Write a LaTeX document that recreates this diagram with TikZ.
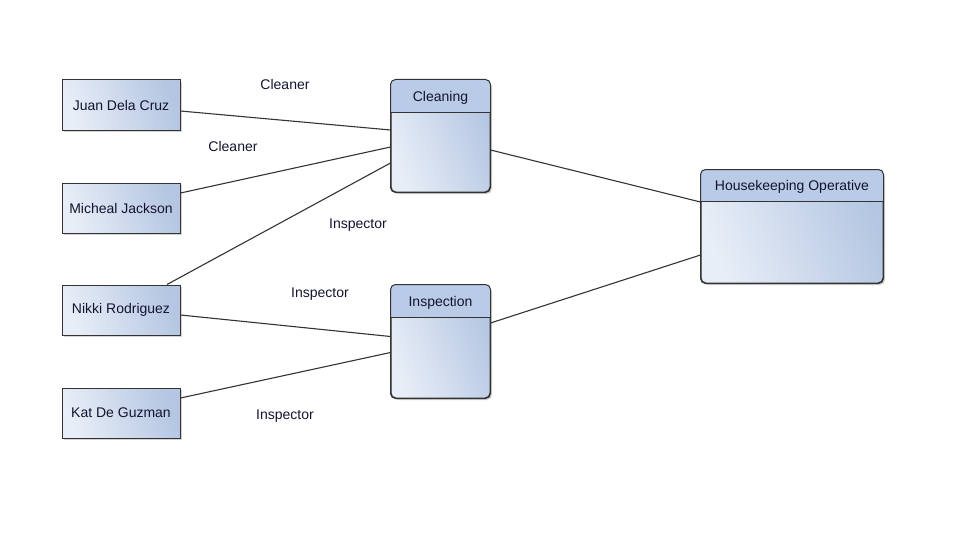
\documentclass[tikz,border=0pt]{standalone}
\usepackage{fontspec}
\setmainfont{Liberation Sans}
\usetikzlibrary{shadows}
\definecolor{lightc}{HTML}{E8EEF7}
\definecolor{darkc}{HTML}{B4C6E2}
\definecolor{hdrc}{HTML}{B9CBE6}
\definecolor{linec}{HTML}{333333}
\definecolor{txtc}{HTML}{141430}
\tikzset{
  every node/.style={font=\fontsize{14}{16}\selectfont, text=txtc},
  shadowed/.style={drop shadow={shadow xshift=2pt, shadow yshift=-2pt, opacity=0.35, fill=gray}},
  person/.style={draw=linec, line width=1pt, minimum width=118pt, minimum height=50pt,
    inner sep=0pt, left color=lightc, right color=darkc, shading angle=110, shadowed},
  entity/.style={draw=linec, line width=1pt, rounded corners=5pt, inner sep=0pt,
    left color=lightc, right color=darkc, shading angle=110, shadowed},
  conn/.style={draw=linec, line width=1.1pt},
  lbl/.style={inner sep=1pt}
}
\begin{document}
\begin{tikzpicture}[x=1pt, y=-1pt]
\useasboundingbox (0,0) rectangle (959,543);
% people
\node[person] (juan) at (121,105) {Juan Dela Cruz};
\node[person] (mich) at (121,208) {Micheal Jackson};
\node[person] (nikki) at (121,310) {Nikki Rodriguez};
\node[person] (kat) at (121,413) {Kat De Guzman};
% entities
\node[entity, minimum width=99pt, minimum height=112pt] (clean) at (440.5,136) {};
\node[entity, minimum width=99pt, minimum height=113pt] (insp) at (440.5,341.5) {};
\node[entity, minimum width=182pt, minimum height=113pt] (house) at (792,226.5) {};
% headers
\foreach \n/\h/\t in {clean/33/Cleaning, insp/33/Inspection, house/32/Housekeeping Operative}{
  \begin{scope}
    \clip[rounded corners=5pt] (\n.north west) rectangle (\n.south east);
    \fill[hdrc] (\n.north west) rectangle ([yshift=-\h pt]\n.north east);
  \end{scope}
  \draw[linec, line width=1pt, rounded corners=5pt] (\n.north west) rectangle (\n.south east);
  \draw[linec, line width=1.2pt] ([yshift=-\h pt]\n.north west) -- ([yshift=-\h pt]\n.north east);
  \path (\n.north west) -- ([yshift=-\h pt]\n.north east) node[midway, yshift=-1.5pt] (\n-title) {\t};
}
% connectors
\draw[conn] ([yshift=-6pt]juan.east) -- ([yshift=6pt]clean.west);
\draw[conn] ([yshift=15pt]mich.east) -- ([yshift=-11pt]clean.west);
\draw[conn] ([xshift=46pt]nikki.north) -- ([yshift=-27pt]clean.west);
\draw[conn] ([yshift=-5pt]nikki.east) -- ([yshift=5pt]insp.west);
\draw[conn] ([yshift=15pt]kat.east) -- ([yshift=-11pt]insp.west);
\draw[conn] ([yshift=-14pt]clean.east) -- ([yshift=24.5pt]house.west);
\draw[conn] ([yshift=18.5pt]insp.east) -- ([yshift=-28.5pt]house.west);
% labels
\node[lbl] (l1) at (285,84.5) {Cleaner};
\node[lbl] (l2) at (233,146.5) {Cleaner};
\node[lbl] (l3) at (358,225) {Inspector};
\node[lbl] (l4) at (320,294) {Inspector};
\node[lbl] (l5) at (285,416) {Inspector};
\end{tikzpicture}
\end{document}
